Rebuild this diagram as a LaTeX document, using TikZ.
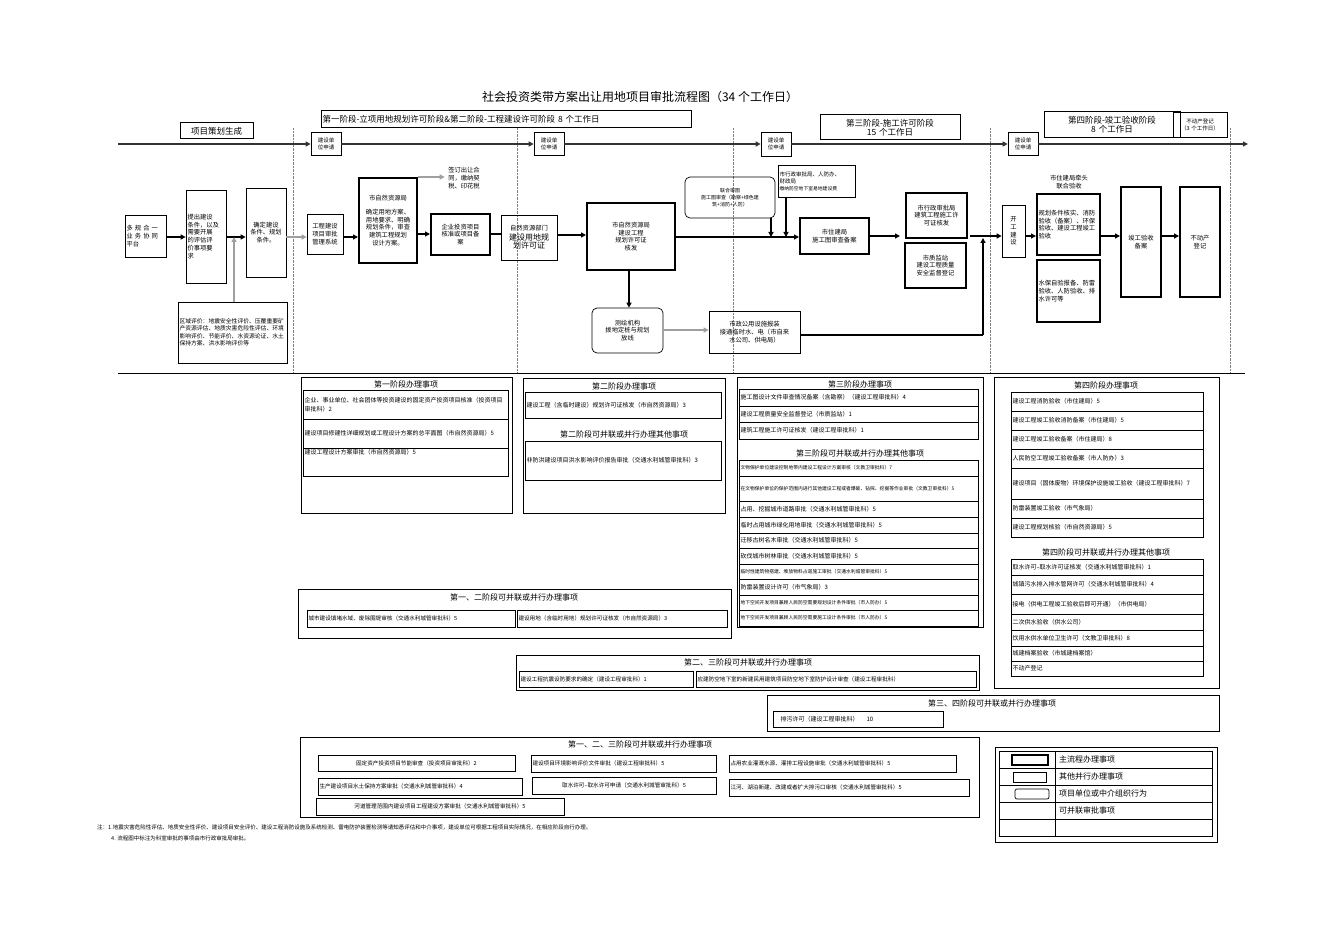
\documentclass[tikz,border=0pt]{standalone}
\usepackage{fontspec}
\setmainfont{Noto Sans CJK SC}
\XeTeXlinebreaklocale "zh"
\XeTeXlinebreakskip=0pt
\usetikzlibrary{arrows.meta}
\newcommand\bx[7]{\pgfmathsetmacro\mytw{#4-#2-3}\node[#6,minimum width={#4-#2},minimum height={#5-#3},text width=\mytw pt] (#1) at ({(#2+#4)/2},{(#3+#5)/2}) {#7};}
\tikzset{
 fb/.style={draw,line width=0.7pt,inner sep=1pt,align=center,font=\fontsize{6.3}{7.8}\selectfont},
 thk/.style={fb,line width=2pt},
 rnd/.style={fb,rounded corners=5pt},
 it/.style={draw,line width=0.7pt,inner sep=1.5pt,align=left,font=\fontsize{6}{8.5}\selectfont},
 its/.style={it,font=\fontsize{4.8}{7}\selectfont},
 pan/.style={draw,line width=0.7pt},
 ptl/.style={font=\fontsize{8}{9}\selectfont},
 ar/.style={-{Triangle[length=5pt,width=5pt]},line width=1.3pt},
 gar/.style={ar,draw=gray!75},
 ln/.style={line width=1.3pt},
}
\begin{document}
\begin{tikzpicture}[x=1pt,y=-1pt]
\useasboundingbox (0,0) rectangle (1320,933);
\node[font=\fontsize{12}{14}\selectfont] at (640,97) {社会投资类带方案出让用地项目审批流程图（34 个工作日）};
% headers
\bx{h0}{180}{123}{253}{139}{fb,line width=1pt,font=\fontsize{8.5}{10}\selectfont}{项目策划生成}
\bx{h1}{321}{111}{691}{128}{fb,line width=1pt,align=left,font=\fontsize{8.5}{10}\selectfont}{第一阶段-立项用地规划许可阶段\&第二阶段-工程建设许可阶段 8 个工作日}
\bx{h3}{820}{115}{960}{140}{fb,line width=1pt,font=\fontsize{8.5}{9}\selectfont}{第三阶段-施工许可阶段\\15 个工作日}
\bx{h4}{1044}{112}{1180}{138}{fb,line width=1pt,font=\fontsize{8.5}{9}\selectfont}{第四阶段-竣工验收阶段\\8 个工作日}
\bx{h5}{1173}{112}{1227}{137}{fb,font=\fontsize{5.5}{7}\selectfont}{不动产登记\\（3 个工作日）}
% dotted lines
\foreach \x in {293,517,733,990,1230} \draw[densely dotted,gray] (\x,128) -- (\x,372);
\draw[line width=0.8pt] (118,373) -- (1245,373);
% applicant boxes
\bx{a1}{311}{132}{341}{155}{fb,font=\fontsize{5.5}{7}\selectfont}{建设单\\位申请}
\bx{a2}{534}{132}{564}{155}{fb,font=\fontsize{5.5}{7}\selectfont}{建设单\\位申请}
\bx{a3}{761}{132}{791}{156}{fb,font=\fontsize{5.5}{7}\selectfont}{建设单\\位申请}
\bx{a4}{1008}{132}{1038}{155}{fb,font=\fontsize{5.5}{7}\selectfont}{建设单\\位申请}
\coordinate (s0) at (118,144); \coordinate (s5) at (1248,144);
\draw[ar,gray!40!black] (s0) -- (a1.west|-s0);
\draw[ar,gray!40!black] (a1.east|-s0) -- (a2.west|-s0);
\draw[ar,gray!40!black] (a2.east|-s0) -- (a3.west|-s0);
\draw[ar,gray!40!black] (a3.east|-s0) -- (a4.west|-s0);
\draw[ar,gray!40!black] (a4.east|-s0) -- (s5);
% flow
\bx{b1}{125}{215}{166}{257}{fb,align=left}{多 规 合 一\\业 务 协 同\\平台}
\bx{b2}{186}{190}{226}{283}{fb,align=left}{提出建设\\条件，以及\\需要开展\\的评估评\\价事项要\\求}
\bx{b3}{246}{188}{286}{277}{fb}{确定建设\\条件、规划\\条件。}
\bx{b4}{307}{214}{343}{254}{fb}{工程建设\\项目审批\\管理系统}
\bx{b5}{359}{178}{417}{263}{thk}{市自然资源局\\[6pt]确定用地方案、\\用地要求、明确\\规划条件，审查\\建筑工程规划\\设计方案。}
\node[font=\fontsize{6.3}{7.8}\selectfont,align=left] (b5t) at (464,178) {签订出让合\\同，缴纳契\\税、印花税};
\bx{b6}{431}{214}{490}{255}{thk}{企业投资项目\\核准或项目备\\案}
\bx{b7}{501}{215}{557}{260}{fb}{自然资源部门\\{\fontsize{8}{10}\selectfont 建设用地规\\划许可证}}
\bx{b8}{587}{203}{675}{270}{thk}{市自然资源局\\建设工程\\规划许可证\\核发}
\bx{b9}{592}{308}{663}{353}{rnd}{测绘机构\\拨地定桩与规划\\放线}
\bx{b10}{709}{311}{800}{353}{fb}{市政公用设施报装\\接通临时水、电（市自来\\水公司、供电局）}
\bx{b11}{685}{177}{775}{218}{rnd,font=\fontsize{5}{7}\selectfont}{联合审图\\施工图审查（勘察+绿色建\\筑+消防+人防）}
\bx{b12}{778}{165}{855}{197}{fb,align=left,font=\fontsize{5.5}{7}\selectfont}{市行政审批局、人防办、\\财政局\\{\fontsize{4.8}{6}\selectfont 缴纳防空地下室易地建设费}}
\bx{b13}{800}{218}{869}{254}{thk}{市住建局\\施工图审查备案}
\bx{b14}{906}{193}{967}{238}{thk}{市行政审批局\\建筑工程施工许\\可证核发}
\bx{b15}{905}{243}{966}{288}{thk}{市质监站\\建设工程质量\\安全监督登记}
\bx{b16}{1002}{205}{1025}{257}{fb}{开\\工\\建\\设}
\node[font=\fontsize{6.3}{7.8}\selectfont,align=center] (b17t) at (1069,182) {市住建局牵头\\联合验收};
\bx{b17}{1037}{194}{1100}{255}{thk,align=left}{规划条件核实、消防验收（备案）、环保验收、建设工程竣工验收}
\bx{b18}{1037}{260}{1100}{322}{thk,align=left}{水保自验报备、防雷验收、人防验收、排水许可等}
\bx{b19}{1121}{187}{1161}{297}{thk}{竣工验收\\备案}
\bx{b20}{1180}{187}{1220}{297}{thk}{不动产\\登记}
\bx{b21}{178}{302}{287}{363}{fb,align=left,font=\fontsize{5.8}{7.5}\selectfont}{区域评价：地震安全性评价、压覆重要矿产资源评估、地质灾害危险性评估、环境影响评价、节能评价、水资源论证、水土保持方案、洪水影响评价等}
% connectors
\draw[ar] (b1.east|-0,237) -- (b2.west|-0,237);
\coordinate (j1) at (234,237);
\draw[ln] (b2.east|-j1) -- (j1);
\draw[ar] (j1) -- (b3.west|-j1);
\draw[gar] (b21.north-|j1) -- (j1);
\draw[gar] (b3.east|-j1) -- (b4.west|-j1);
\draw[ar] (b4.east|-j1) -- (b5.west|-j1);
\draw[gar] (b5.north east) -- (b5t.west|-b5.north);
\draw[ar] (b5.east|-0,234) -- (b6.west|-0,234);
\draw[line width=2pt] (b6.east|-0,234) -- (b7.west|-0,234);
\draw[ar] (b7.east|-0,235) -- (b8.west|-0,235);
\draw[ar] (b8.east|-0,237) -- (b13.west|-0,237);
\draw[ar] (b11.south-|771,0) -- (771,237);
\draw[ar] (b12.south-|786,0) -- (786,237);
\draw[ar] (b8.south-|629,0) -- (b9.north-|629,0);
\draw[gar] (b9.east|-0,330) -- (b10.west|-0,330);
\draw[ar] (b13.east|-0,236) -- (900,236);
\coordinate (j2) at (983,236);
\draw[ln] (b10.east|-0,335) -- (983,335);
\draw[ar] (983,335) -- (983,238);
\draw[ln] (970,236) -- (j2);
\draw[ar] (j2) -- (b16.west|-j2);
\draw[ar] (b16.east|-j2) -- (b17.west|-j2);
\draw[ar] (b17.east|-j2) -- (b19.west|-j2);
\draw[ar] (b19.east|-j2) -- (b20.west|-j2);
% panel 1
\draw[pan] (301,377) rectangle (512,513);
\node[ptl] at (406,384) {第一阶段办理事项};
\bx{p11}{303}{390}{508}{419}{it}{企业、事业单位、社会团体等投资建设的固定资产投资项目核准（投资项目审批科）2}
\bx{p12}{303}{419}{508}{448}{it}{建设项目修建性详细规划或工程设计方案的总平面图（市自然资源局）5}
\node[draw,line width=0.7pt,minimum width=205pt,minimum height=28pt,anchor=north west,inner sep=0pt] (p13) at (303,448) {};
\node[anchor=north west,font=\fontsize{6}{8}\selectfont,inner sep=1.5pt] at (p13.north west) {建设工程设计方案审批（市自然资源局）5};
% panel 2
\draw[pan] (523,378) rectangle (725,513);
\node[ptl] at (624,386) {第二阶段办理事项};
\bx{p21}{525}{392}{721}{418}{it}{建设工程（含临时建设）规划许可证核发（市自然资源局）3}
\node[ptl] at (624,434) {第二阶段可并联或并行办理其他事项};
\bx{p22}{525}{441}{721}{480}{it,font=\fontsize{6}{12}\selectfont}{非防洪建设项目洪水影响评价报告审批（交通水利城管审批科）3}
% panel 3
\draw[pan] (737,377) rectangle (983,627);
\node[ptl] at (860,384) {第三阶段办理事项};
\bx{p31}{739}{389}{978}{406}{it}{施工图设计文件审查情况备案（含勘察）（建设工程审批科）4}
\bx{p32}{739}{406}{978}{422}{it}{建设工程质量安全监督登记（市质监站）1}
\bx{p33}{739}{422}{978}{439}{it}{建筑工程施工许可证核发（建设工程审批科）1}
\node[ptl] at (860,453) {第三阶段可并联或并行办理其他事项};
\bx{q1}{739}{460}{978}{476}{its}{文物保护单位建设控制地带内建设工程设计方案审核（文教卫审批科）7}
\bx{q2}{739}{476}{978}{501}{its}{在文物保护单位的保护范围内进行其他建设工程或者爆破、钻探、挖掘等作业审批（文教卫审批科）5}
\bx{q3}{739}{501}{978}{517}{it}{占用、挖掘城市道路审批（交通水利城管审批科）5}
\bx{q4}{739}{517}{978}{533}{it}{临时占用城市绿化用地审批（交通水利城管审批科）5}
\bx{q5}{739}{533}{978}{548}{it}{迁移古树名木审批（交通水利城管审批科）5}
\bx{q6}{739}{548}{978}{564}{it}{砍伐城市树林审批（交通水利城管审批科）5}
\bx{q7}{739}{564}{978}{579}{its}{临时性建筑物搭建、堆放物料占道施工审批（交通水利城管审批科）5}
\bx{q8}{739}{579}{978}{595}{it}{防雷装置设计许可（市气象局）3}
\bx{q9}{739}{595}{978}{610}{its}{地下空间开发项目兼顾人民防空需要规划设计条件审批（市人防办）5}
\bx{q10}{739}{610}{978}{626}{its}{地下空间开发项目兼顾人民防空需要施工设计条件审批（市人防办）5}
% panel 4
\draw[pan] (994,377) rectangle (1219,688);
\node[ptl] at (1106,385) {第四阶段办理事项};
\bx{r1}{1011}{392}{1203}{411}{it}{建设工程消防验收（市住建局）5}
\bx{r2}{1011}{411}{1203}{430}{it}{建设工程竣工验收消防备案（市住建局）5}
\bx{r3}{1011}{430}{1203}{449}{it}{建设工程竣工验收备案（市住建局）8}
\bx{r4}{1011}{449}{1203}{468}{it}{人民防空工程竣工验收备案（市人防办）3}
\bx{r5}{1011}{468}{1203}{499}{it,font=\fontsize{6}{12}\selectfont}{建设项目（固体废物）环境保护设施竣工验收（建设工程审批科）7}
\bx{r6}{1011}{499}{1203}{518}{it}{防雷装置竣工验收（市气象局）}
\bx{r7}{1011}{518}{1203}{537}{it}{建设工程规划核验（市自然资源局）5}
\node[ptl] at (1106,552) {第四阶段可并联或并行办理其他事项};
\bx{t1}{1011}{559}{1203}{575}{it}{取水许可--取水许可证核发（交通水利城管审批科）1}
\bx{t2}{1011}{575}{1203}{594}{it}{城镇污水排入排水管网许可（交通水利城管审批科）4}
\bx{t3}{1011}{594}{1203}{614}{it}{接电（供电工程竣工验收后即可开通）（市供电局）}
\bx{t4}{1011}{614}{1203}{630}{it}{二次供水验收（供水公司）}
\bx{t5}{1011}{630}{1203}{646}{it}{饮用水供水单位卫生许可（文教卫审批科）8}
\bx{t6}{1011}{646}{1203}{661}{it}{城建档案验收（市城建档案馆）}
\bx{t7}{1011}{661}{1203}{676}{it}{不动产登记}
% panel 1-2
\draw[pan] (298,589) rectangle (731,638);
\node[ptl] at (514,597) {第一、二阶段可并联或并行办理事项};
\bx{u1}{307}{610}{515}{627}{it,font=\fontsize{5.6}{7}\selectfont}{城市建设填堵水域、废除围堤审核（交通水利城管审批科）5}
\bx{u2}{517}{610}{727}{627}{it,font=\fontsize{5.6}{7}\selectfont}{建设用地（含临时用地）规划许可证核发（市自然资源局）3}
% panel 2-3
\draw[pan] (516,655) rectangle (979,690);
\node[ptl] at (748,662) {第二、三阶段可并联或并行办理事项};
\bx{v1}{519}{671}{693}{687}{it,font=\fontsize{5.6}{7}\selectfont}{建设工程抗震设防要求的确定（建设工程审批科）1}
\bx{v2}{696}{671}{976}{687}{it,font=\fontsize{5.6}{7}\selectfont}{应建防空地下室的新建民用建筑项目防空地下室防护设计审查（建设工程审批科）}
% panel 3-4
\draw[pan] (767,695) rectangle (1219,731);
\node[ptl] at (992,703) {第三、四阶段可并联或并行办理事项};
\bx{w1}{773}{711}{943}{727}{it}{\hspace{6pt}排污许可（建设工程审批科）\hspace{8pt}10}
% panel 1-2-3
\draw[pan] (300,737) rectangle (979,817);
\node[ptl] at (640,744) {第一、二、三阶段可并联或并行办理事项};
\bx{x1}{318}{755}{515}{771}{it,align=center,font=\fontsize{5.6}{7}\selectfont}{固定资产投资项目节能审查（投资项目审批科）2}
\bx{x2}{531}{755}{716}{772}{it,font=\fontsize{5.6}{7}\selectfont}{建设项目环境影响评价文件审批（建设工程审批科）5}
\bx{x3}{729}{755}{956}{772}{it,font=\fontsize{5.6}{7}\selectfont}{占用农业灌溉水源、灌排工程设施审批（交通水利城管审批科）5}
\bx{x4}{318}{778}{522}{795}{it,font=\fontsize{5.6}{7}\selectfont}{生产建设项目水土保持方案审批（交通水利城管审批科）4}
\bx{x5}{532}{777}{716}{794}{it,align=center,font=\fontsize{5.6}{7}\selectfont}{取水许可--取水许可申请（交通水利城管审批科）5}
\bx{x6}{729}{779}{969}{796}{it,font=\fontsize{5.6}{7}\selectfont}{江河、湖泊新建、改建或者扩大排污口审核（交通水利城管审批科）5}
\bx{x7}{316}{798}{564}{815}{it,align=center,font=\fontsize{5.6}{7}\selectfont}{河道管理范围内建设项目工程建设方案审批（交通水利城管审批科）5}
% legend
\draw[pan] (995,747) rectangle (1217,842);
\draw[line width=0.7pt] (999,751) rectangle (1212,836);
\foreach \y in {768,785,802,819} \draw[line width=0.7pt] (999,\y) -- (1212,\y);
\draw[line width=0.7pt] (1055,751) -- (1055,836);
\draw[line width=2pt] (1012,755) rectangle (1048,765);
\draw[line width=0.7pt] (1013,772) rectangle (1046,782);
\draw[line width=0.7pt,rounded corners=2pt] (1015,789) rectangle (1049,799);
\foreach \y/\t in {759.5/主流程办理事项,776.5/其他并行办理事项,793.5/项目单位或中介组织行为,810.5/可并联审批事项}
  \node[anchor=west,font=\fontsize{8}{9}\selectfont,inner sep=0pt] at (1059,\y) {\t};
% notes
\node[anchor=west,font=\fontsize{5.5}{7}\selectfont,inner sep=0pt] at (97,827) {注：1.地震灾害危险性评估、地质安全性评价、建设项目安全评价、建设工程消防设施及系统检测、雷电防护装置检测等请知悉评估和中介事项，建设单位可根据工程项目实际情况，在相应阶段自行办理。};
\node[anchor=west,font=\fontsize{5.5}{7}\selectfont,inner sep=0pt] at (111,838) {4. 流程图中标注为科室审批的事项由市行政审批局审批。};
\end{tikzpicture}
\end{document}
